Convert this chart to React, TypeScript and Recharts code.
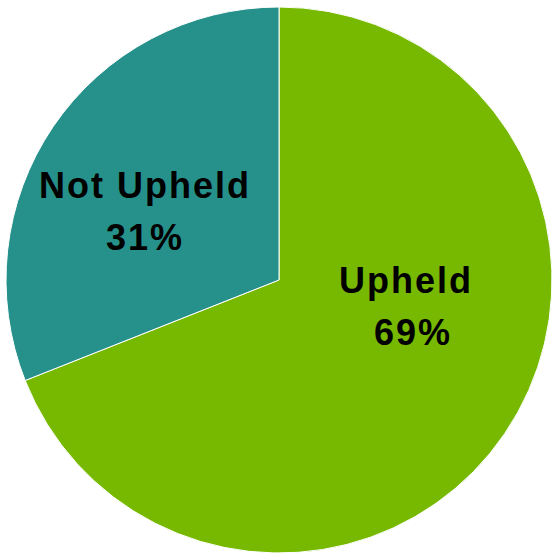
import { PieChart, Pie, Cell } from "recharts";

const categories = ["Upheld", "Not Upheld"];
const shares = [69, 31];
const percentLabels = ["69%", "31%"];

const colors = ["#76B900", "#26918A"];
// label position (centre x, first-line baseline) relative to the pie centre
const labelOffsets = [
  { dx: 127, dy: 13, pctShift: 7 },
  { dx: -134, dy: -82, pctShift: 0 }
];

const chartData = categories.map((name, i) => ({
  name,
  value: shares[i],
  pct: percentLabels[i]
}));

function renderLabel(props: any) {
  const { cx, cy, index } = props;
  const off = labelOffsets[index];
  const x = cx + off.dx;
  const y = cy + off.dy;
  return (
    <text
      x={x}
      y={y}
      textAnchor="middle"
      fill="#000"
      style={{
        fontFamily: "'Liberation Sans', Arial, sans-serif",
        fontWeight: "bold",
        fontSize: 36,
        letterSpacing: 2
      }}
    >
      <tspan x={x} y={y}>{chartData[index].name}</tspan>
      <tspan x={x + off.pctShift} y={y + 52}>{chartData[index].pct}</tspan>
    </text>
  );
}

export default function App() {
  return (
    <div style={{ position: "absolute", left: 0, top: 0, width: 552, height: 554 }}>
      <PieChart width={552} height={554} margin={{ top: 0, right: 0, bottom: 0, left: 0 }}>
        <Pie
          data={chartData}
          dataKey="value"
          nameKey="name"
          cx={279}
          cy={280}
          outerRadius={273}
          startAngle={90}
          endAngle={-270}
          stroke="#fff"
          strokeWidth={1}
          label={renderLabel}
          labelLine={false}
          isAnimationActive={false}
        >
          {chartData.map((d, i) => (
            <Cell key={d.name} fill={colors[i]} />
          ))}
        </Pie>
      </PieChart>
    </div>
  );
}
